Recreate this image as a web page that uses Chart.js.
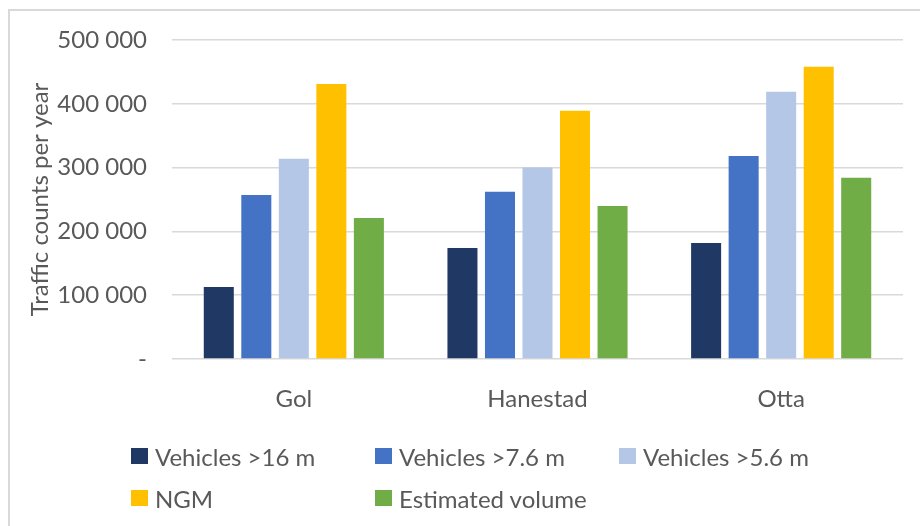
<!DOCTYPE html>
<html>
<head>
<meta charset="utf-8">
<script src="https://cdn.jsdelivr.net/npm/chart.js@4"></script>
<style>
  body { margin: 0; background: #fff; }
  #wrap { position: relative; width: 920px; height: 526px; overflow: hidden; font-family: Lato, sans-serif; }
  #frame { position: absolute; left: 8px; top: 9px; width: 960px; height: 560px;
           border-left: 2px solid #d9d9d9; border-top: 2px solid #d9d9d9; }
  #chart { position: absolute; left: 0; top: 0; }
  #legend { position: absolute; left: 131px; top: 435px;
            display: grid; grid-template-columns: 244px 244px 244px; grid-auto-rows: 42px; }
  .item { display: flex; align-items: center; color: #595959; font-size: 24px; white-space: nowrap; }
  .swatch { width: 17px; height: 16px; margin-right: 7px; flex: none; }
</style>
</head>
<body>
<div id="wrap">
  <div id="frame"></div>
  <canvas id="chart" width="920" height="526"></canvas>
  <div id="legend"></div>
</div>
<script>
  const sites = ["Gol", "Hanestad", "Otta"];
  const seriesNames = ["Vehicles >16 m", "Vehicles >7.6 m", "Vehicles >5.6 m", "NGM", "Estimated volume"];
  const seriesColors = ["#203864", "#4472C4", "#B4C7E7", "#FFC000", "#70AD47"];

  const over16m = [113000, 174000, 182000];
  const over7_6m = [257000, 262000, 318000];
  const over5_6m = [314000, 300000, 419000];
  const ngm = [431000, 389000, 458000];
  const estimated = [221000, 240000, 284000];

  const yTicks = [0, 100000, 200000, 300000, 400000, 500000];

  const seriesValues = [over16m, over7_6m, over5_6m, ngm, estimated];
  const textColor = "#595959";
  const gridColor = "#d9d9d9";
  const labelFont = { family: "Lato", size: 24 };

  function formatCount(v) {
    if (v === 0) return "-";
    return String(v).replace(/\B(?=(\d{3})+(?!\d))/g, " ");
  }

  const chart = new Chart(document.getElementById("chart"), {
    type: "bar",
    data: {
      labels: sites,
      datasets: seriesNames.map((name, i) => ({
        label: name,
        data: seriesValues[i],
        backgroundColor: seriesColors[i],
        categoryPercentage: 0.77,
        barPercentage: 0.8
      }))
    },
    options: {
      responsive: false,
      animation: false,
      devicePixelRatio: 1,
      layout: { padding: { top: 40, right: 17, bottom: 107, left: 0 } },
      plugins: {
        legend: { display: false },
        tooltip: { enabled: false }
      },
      scales: {
        x: {
          grid: { display: false },
          border: { display: false },
          ticks: { color: textColor, font: labelFont, padding: 18 },
          afterFit: scale => { scale.height = 60; }
        },
        y: {
          min: 0,
          max: 500000,
          afterBuildTicks: scale => { scale.ticks = yTicks.map(v => ({ value: v })); },
          grid: { color: gridColor, lineWidth: 1.5, drawTicks: false },
          border: { display: false },
          ticks: {
            color: textColor,
            font: labelFont,
            padding: 25,
            callback: v => formatCount(v)
          },
          title: {
            display: true,
            text: "Traffic counts per year",
            color: textColor,
            font: labelFont,
            padding: { top: 26, bottom: 0 }
          },
          afterFit: scale => { scale.width = 172; }
        }
      }
    }
  });

  // legend laid out in a 3-column grid below the plot
  const legend = document.getElementById("legend");
  chart.data.datasets.forEach(ds => {
    const item = document.createElement("div");
    item.className = "item";
    const sw = document.createElement("span");
    sw.className = "swatch";
    sw.style.background = ds.backgroundColor;
    item.appendChild(sw);
    item.appendChild(document.createTextNode(ds.label));
    legend.appendChild(item);
  });
</script>
</body>
</html>
